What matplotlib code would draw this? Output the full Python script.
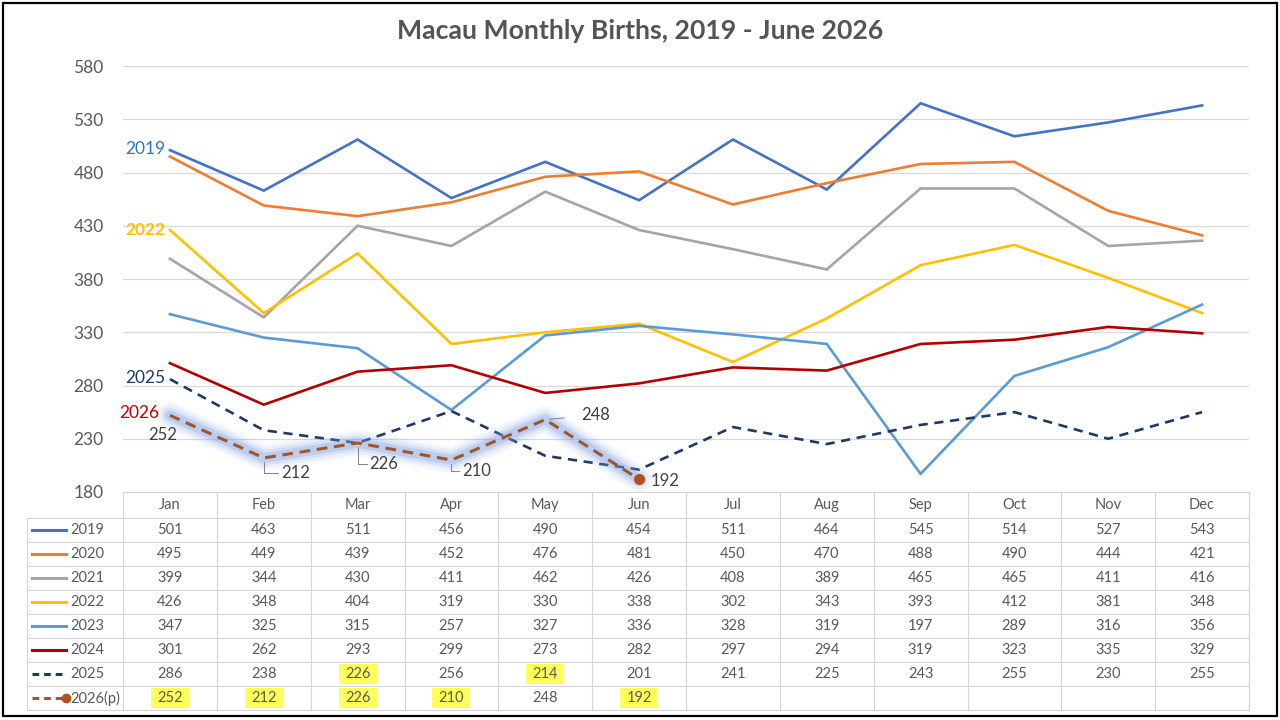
import matplotlib
matplotlib.use("Agg")
from matplotlib import pyplot as plt
from matplotlib.patches import Rectangle

plt.rcParams['font.family'] = ['Lato', 'DejaVu Sans']

months = ["Jan", "Feb", "Mar", "Apr", "May", "Jun",
          "Jul", "Aug", "Sep", "Oct", "Nov", "Dec"]
years = ["2019", "2020", "2021", "2022", "2023", "2024", "2025", "2026(p)"]

y2019 = [501, 463, 511, 456, 490, 454, 511, 464, 545, 514, 527, 543]
y2020 = [495, 449, 439, 452, 476, 481, 450, 470, 488, 490, 444, 421]
y2021 = [399, 344, 430, 411, 462, 426, 408, 389, 465, 465, 411, 416]
y2022 = [426, 348, 404, 319, 330, 338, 302, 343, 393, 412, 381, 348]
y2023 = [347, 325, 315, 257, 327, 336, 328, 319, 197, 289, 316, 356]
y2024 = [301, 262, 293, 299, 273, 282, 297, 294, 319, 323, 335, 329]
y2025 = [286, 238, 226, 256, 214, 201, 241, 225, 243, 255, 230, 255]
y2026 = [252, 212, 226, 210, 248, 192]

series = [y2019, y2020, y2021, y2022, y2023, y2024, y2025, y2026]
colors = ["#4472C4", "#ED7D31", "#A5A5A5", "#FFC000",
          "#5B9BD5", "#B00000", "#203864", "#A0552A"]

# cells marked with highlighter: (row index, month index)
highlights = [(6, 2), (6, 4), (7, 0), (7, 1), (7, 2), (7, 3), (7, 5)]

W, H = 1280, 720
fig = plt.figure(figsize=(12.8, 7.2), dpi=100)

# overlay in pixel coords for table + border
ov = fig.add_axes([0, 0, 1, 1])
ov.set_xlim(0, W)
ov.set_ylim(H, 0)
ov.axis("off")

left, right, top, bottom = 123, 1249, 66, 492
ax = fig.add_axes([left / W, 1 - bottom / H, (right - left) / W, (bottom - top) / H])
ax.set_xlim(-0.5, 11.5)
ax.set_ylim(180, 580)
ax.set_yticks(range(180, 581, 50))
for s in ax.spines.values():
    s.set_visible(False)
ax.set_xticks([])
ax.tick_params(axis="y", length=0, pad=14, labelsize=12.5, labelcolor="#595959")
ax.grid(axis="y", color="#D9D9D9", lw=0.9)
ax.set_axisbelow(True)
ax.patch.set_alpha(0)

x = list(range(12))
for i in range(6):
    ax.plot(x, series[i], color=colors[i], lw=1.9, solid_joinstyle="miter")
ax.plot(x, y2025, color=colors[6], lw=1.9, ls=(0, (3.5, 2.5)))

# glow around 2026
x26 = x[:len(y2026)]
for lw, a in [(19, 0.07), (15, 0.10), (11, 0.16), (7, 0.28)]:
    ax.plot(x26, y2026, color="#7C9CE4", lw=lw, alpha=a,
            solid_capstyle="round", solid_joinstyle="round")
ax.plot(x26, y2026, color=colors[7], lw=2.2, ls=(0, (3.5, 2.2)))
ax.plot(x26[-1], y2026[-1], "o", color="#B5501A", ms=7)

# series name labels
ax.annotate("2019", (0, y2019[0]), xytext=(-3, 1), textcoords="offset points",
            ha="right", va="center", fontsize=12.5, color="#2E75B6")
ax.annotate("2022", (0, y2022[0]), xytext=(-3, 0), textcoords="offset points",
            ha="right", va="center", fontsize=12.5, color="#FFC000", fontweight="bold")
ax.annotate("2025", (0, y2025[0]), xytext=(-3, 1), textcoords="offset points",
            ha="right", va="center", fontsize=12.5, color="#203864")
ax.annotate("2026", (0, y2026[0]), xytext=(-8, 2), textcoords="offset points",
            ha="right", va="center", fontsize=12.5, color="#C00000")

# data labels 2026
lab_kw = dict(textcoords="offset points", fontsize=12, color="#404040",
              ha="center", va="center")
lead = dict(arrowstyle="-", color="#808080", lw=0.7, shrinkA=0, shrinkB=3,
            connectionstyle="angle,angleA=0,angleB=90")
ax.annotate(str(y2026[0]), (0, y2026[0]), xytext=(-5, -14), **lab_kw)
ax.annotate(str(y2026[1]), (1, y2026[1]), xytext=(23, -11), arrowprops=lead, **lab_kw)
ax.annotate(str(y2026[2]), (2, y2026[2]), xytext=(19, -15), arrowprops=lead, **lab_kw)
ax.annotate(str(y2026[3]), (3, y2026[3]), xytext=(18, -8), arrowprops=lead, **lab_kw)
ax.annotate(str(y2026[4]), (4, y2026[4]), xytext=(36, 3),
            arrowprops=dict(arrowstyle="-", color="#808080", lw=0.7, shrinkA=10, shrinkB=3),
            **lab_kw)
ax.annotate(str(y2026[5]), (5, y2026[5]), xytext=(19, -1), **lab_kw)

# title
fig.text(0.5, 1 - 31 / H, "Macau Monthly Births, 2019 - June 2026", ha="center",
         va="center", fontsize=19.2, fontweight="bold", color="#545454")

# data table
colw = (right - left) / 12
hdr_top, row0, rowh = 492, 518, 24
nrows = len(years)
tab_bot = row0 + nrows * rowh
gcol = "#D4D4D4"
ov.plot([left, right], [hdr_top, hdr_top], color=gcol, lw=0.8)
for r in range(nrows + 1):
    yy = row0 + r * rowh
    ov.plot([27, right], [yy, yy], color=gcol, lw=0.8)
for c in range(13):
    xx = left + c * colw
    ov.plot([xx, xx], [hdr_top, tab_bot], color=gcol, lw=0.8)
ov.plot([27, 27], [row0, tab_bot], color=gcol, lw=0.8)

for r, c in highlights:
    cx = left + (c + 0.5) * colw
    cy = row0 + (r + 0.5) * rowh
    ov.add_patch(Rectangle((cx - 19, cy - 10), 38, 20, color="#FFFF3C",
                           alpha=0.85, lw=0, zorder=1))

for c, m in enumerate(months):
    ov.text(left + (c + 0.5) * colw, (hdr_top + row0) / 2, m, ha="center",
            va="center", fontsize=10.5, color="#595959")

styles = ["-"] * 6 + [(0, (2.2, 1.6)), (0, (2.2, 1.6))]
for r, (yr, vals) in enumerate(zip(years, series)):
    cy = row0 + (r + 0.5) * rowh
    ov.plot([32, 66], [cy, cy], color=colors[r], lw=2.2, ls=styles[r])
    if r == 7:
        ov.plot([66], [cy], "o", color="#B5501A", ms=6)
    ov.text(70, cy, yr, ha="left", va="center", fontsize=10.5, color="#595959")
    for c, v in enumerate(vals):
        ov.text(left + (c + 0.5) * colw, cy, str(v), ha="center", va="center",
                fontsize=10.5, color="#595959", zorder=2)

# outer border
ov.add_patch(Rectangle((3, 3), W - 6, H - 7, fill=False, ec="black", lw=1.6))

fig.savefig("out.png", dpi=100)
